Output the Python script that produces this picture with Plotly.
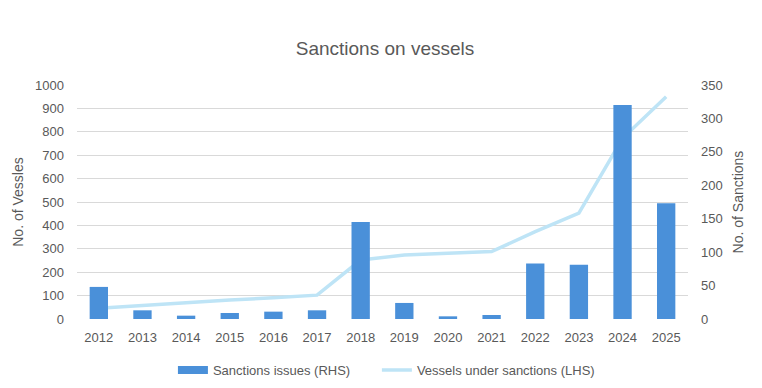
import plotly.graph_objects as go

years = ["2012", "2013", "2014", "2015", "2016", "2017", "2018",
         "2019", "2020", "2021", "2022", "2023", "2024", "2025"]
sanctions_issued = [48, 13, 5, 9, 11, 13, 145, 24, 4, 6, 83, 81, 320, 173]
vessels_under_sanctions = [46, 58, 71, 81, 91, 102, 252, 273, 281, 288, 373, 452, 772, 950]

grey = "#595959"
bar_color = "#4A90D9"
line_color = "#BEE4F6"
font_family = "Liberation Sans, Arial, sans-serif"

fig = go.Figure()
fig.add_trace(go.Bar(
    x=years, y=sanctions_issued, name="Sanctions issues (RHS)",
    marker=dict(color=bar_color, line=dict(width=0)),
    width=0.42, yaxis="y2", showlegend=False,
))
# legend entry drawn as a wide rectangle like the reference
fig.add_trace(go.Scatter(
    x=[None], y=[None], name="Sanctions issues (RHS)" + "\u00a0" * 6, mode="lines",
    line=dict(color=bar_color, width=8), yaxis="y2",
))
fig.add_trace(go.Scatter(
    x=years, y=vessels_under_sanctions, name="Vessels under sanctions (LHS)",
    mode="lines", line=dict(color=line_color, width=3.5), yaxis="y",
))

fig.update_layout(
    width=754, height=380,
    margin=dict(l=69, r=74, t=77, b=69, autoexpand=False),
    paper_bgcolor="white", plot_bgcolor="white",
    font=dict(family=font_family, color=grey, size=13),
    title=dict(text="Sanctions on vessels", x=0.5, xanchor="center",
               y=0.895, yanchor="middle", yref="container",
               font=dict(size=19, color=grey, family=font_family)),
    xaxis=dict(type="category", showgrid=False, zeroline=False, automargin=False,
               showline=False, ticks="", ticklabelstandoff=9,
               tickfont=dict(size=13, color=grey)),
    yaxis=dict(range=[0, 1000], dtick=100, showgrid=True, gridcolor="#D9D9D9",
               gridwidth=1, zeroline=False, showline=False, ticks="", automargin=False,
               ticklabelstandoff=12,
               title=dict(text="No. of Vessles", font=dict(size=14, color=grey), standoff=8),
               tickfont=dict(size=13, color=grey)),
    yaxis2=dict(range=[0, 350], dtick=50, overlaying="y", side="right", automargin=False,
                showgrid=False, zeroline=False, showline=False, ticks="",
                ticklabelstandoff=12,
                title=dict(text="No. of Sanctions", font=dict(size=14, color=grey), standoff=11),
                tickfont=dict(size=13, color=grey)),
    legend=dict(orientation="h", x=0.157, xanchor="left", y=-0.154, yanchor="top",
                font=dict(size=13, color=grey), traceorder="normal",
                itemwidth=30),
    showlegend=True,
)

fig.write_html("out.html")
